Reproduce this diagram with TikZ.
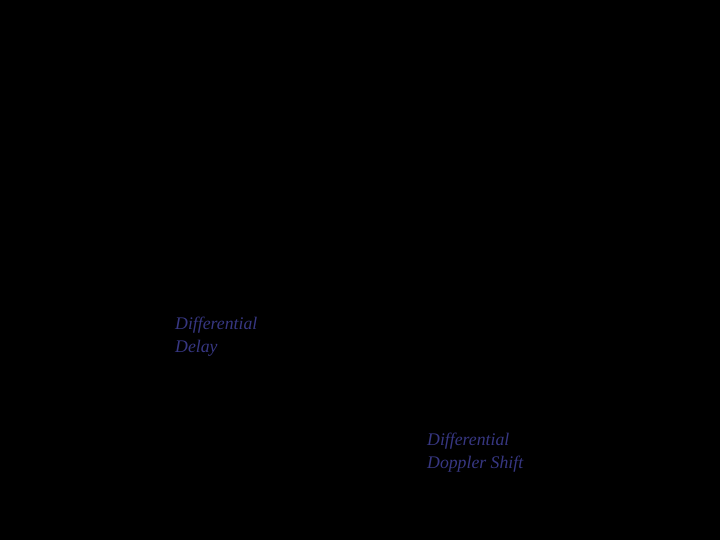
\documentclass[tikz,border=0pt]{standalone}
\usepackage{fontspec}
\setmainfont{Liberation Serif}
\definecolor{lbl}{RGB}{55,55,130}
\begin{document}
\begin{tikzpicture}[x=1bp,y=-1bp,
  lab/.style={anchor=north west,inner sep=0pt,align=left,text=lbl,
    font=\fontsize{17.8}{22.5}\selectfont\itshape}]
\fill[black] (0,0) rectangle (720,540);
\useasboundingbox (0,0) rectangle (720,540);
\node[lab] (delay) at (175,317) {Differential\\Delay};
\node[lab] (doppler) at (427,433) {Differential\\Doppler Shift};
\end{tikzpicture}
\end{document}
